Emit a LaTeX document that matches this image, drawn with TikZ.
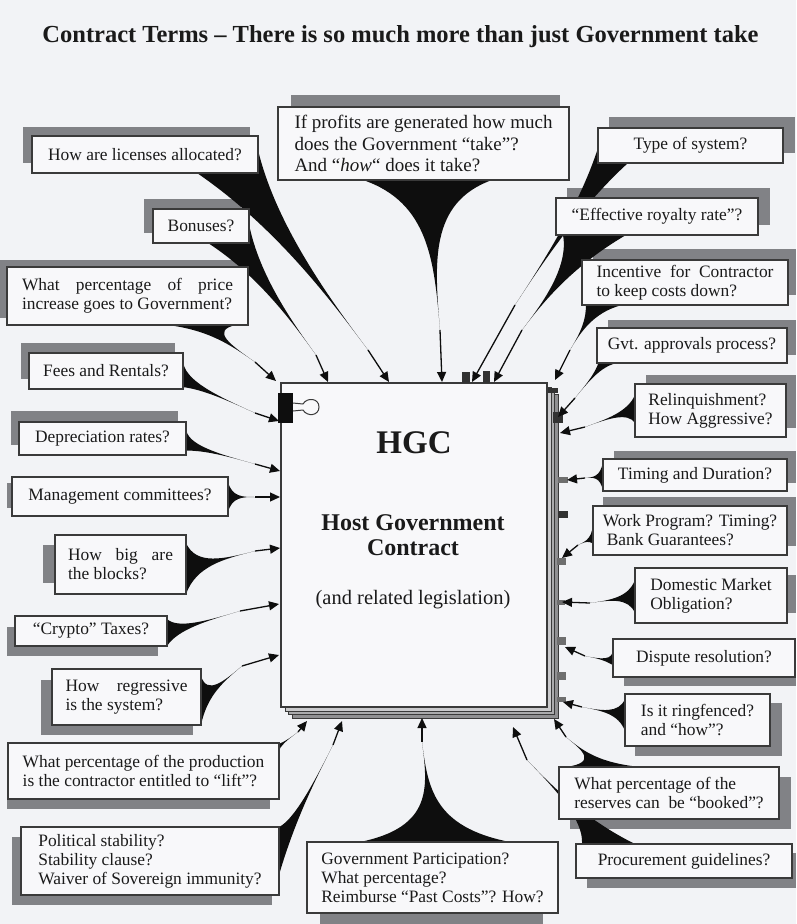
\documentclass[tikz,border=0pt]{standalone}
\usepackage{fontspec}
\setmainfont{Liberation Serif}
\usetikzlibrary{calc,arrows.meta}

\pgfdeclarelayer{bg}
\pgfdeclarelayer{stack}
\pgfdeclarelayer{shade}
\pgfdeclarelayer{tails}
\pgfsetlayers{bg,stack,shade,tails,main}

\definecolor{paper}{HTML}{F2F3F6}
\definecolor{boxfill}{HTML}{F8F8FA}
\definecolor{ink}{HTML}{1A1A1A}
\definecolor{edge}{HTML}{3A3A3A}
\definecolor{shadowc}{HTML}{818286}
\definecolor{tailc}{HTML}{0E0E0E}
\definecolor{pageA}{HTML}{CACACC}
\definecolor{pageB}{HTML}{ABABAD}
\definecolor{pageC}{HTML}{909092}

\tikzset{
  qbox/.style={draw=edge, line width=1.1pt, fill=boxfill, text=ink,
    inner sep=0pt, outer sep=0pt, align=left,
    font=\fontsize{17.4}{19}\selectfont},
  tailfill/.style={fill=tailc},
  tailline/.style={draw=tailc, line width=1.3pt,
    -{Triangle[length=10pt,width=9pt]}},
  tabmark/.style={fill=tailc!85},
  tabsoft/.style={fill=tailc!60},
  sheet/.style={draw=edge, line width=0.7pt},
}

% gray drop shadow behind a box: offsets of its two corners
\newcommand\boxshade[3]{%
  \fill[shadowc] ($(#1.north west)+(#2)$) rectangle ($(#1.south east)+(#3)$);}

% tapering callout tail: base #2--#3, neck #4, arrow to #5;
% #1 sets how far along the axis the first control point sits
\newcommand\tailto[5][0.15]{%
  \coordinate (tA) at (#2);
  \coordinate (tB) at (#3);
  \coordinate (tN) at (#4);
  \coordinate (tM) at ($(tA)!0.5!(tB)$);
  \pgfmathsetmacro\tailk{#1+0.4}%
  \fill[tailfill] (tA) .. controls ($(tM)!#1!(tN)$) and ($(tM)!\tailk!(tN)$) .. (tN)
    .. controls ($(tM)!\tailk!(tN)$) and ($(tM)!#1!(tN)$) .. (tB) -- cycle;
  \draw[tailline] (tN) -- (#5);
}

\begin{document}
\begin{tikzpicture}[x=1pt,y=-1pt]
\useasboundingbox (0,0) rectangle (796,924);
\begin{pgfonlayer}{bg}
  \fill[paper] (0,0) rectangle (796,924);
\end{pgfonlayer}

% title
\node[anchor=base, text=ink, font=\fontsize{24.5}{28}\selectfont\bfseries] (title) at (400.5,42)
  {Contract Terms – There is so much more than just Government take};

% question boxes
\node[qbox, minimum width=291pt, minimum height=73pt, font=\fontsize{19}{21.5}\selectfont] (profits) at (423.5,143.5)
  {If profits are generated how much\\does the Government “take”?\\And “\textit{how}“ does it take?};
\node[qbox, minimum width=185pt, minimum height=35pt] (typesys) at (690.5,145.5) {Type of system?};
\node[qbox, minimum width=202pt, minimum height=37pt] (effect) at (657,216.5) {“Effective royalty rate”?};
\node[qbox, minimum width=206pt, minimum height=45pt] (incent) at (685,282.5)
  {\makebox[177pt][s]{Incentive for Contractor}\\to keep costs down?};
\node[qbox, minimum width=190pt, minimum height=35pt] (gvt) at (692,345.5) {Gvt. approvals process?};
\node[qbox, minimum width=151pt, minimum height=53pt] (relinq) at (710.5,410.5) {Relinquishment?\\How Aggressive?};
\node[qbox, minimum width=184pt, minimum height=32pt] (timing) at (695,475) {Timing and Duration?};
\node[qbox, minimum width=194pt, minimum height=49pt] (work) at (690,530.5)
  {Work Program? Timing?\\\hspace*{4pt}Bank Guarantees?};
\node[qbox, minimum width=152pt, minimum height=55pt] (dmo) at (711,595.5) {Domestic Market\\Obligation?};
\node[qbox, minimum width=182pt, minimum height=38pt] (dispute) at (704,658) {Dispute resolution?};
\node[qbox, minimum width=145pt, minimum height=52pt] (ring) at (697.5,720) {Is it ringfenced?\\and “how”?};
\node[qbox, minimum width=220pt, minimum height=52pt] (reserves) at (669,793)
  {What percentage of the\\reserves can\ \ be “booked”?};
\node[qbox, minimum width=216pt, minimum height=34pt] (procure) at (684,861) {Procurement guidelines?};
\node[qbox, minimum width=251pt, minimum height=71pt] (govpart) at (432.5,877.5)
  {Government Participation?\\What percentage?\\Reimburse “Past Costs”? How?};
\node[qbox, minimum width=226pt, minimum height=37pt] (lic) at (145,154.5) {How are licenses allocated?};
\node[qbox, minimum width=96pt, minimum height=34pt] (bonus) at (201,226) {Bonuses?};
\node[qbox, minimum width=241pt, minimum height=58pt] (price) at (127.5,296)
  {\makebox[211pt][s]{What percentage of price}\\increase goes to Government?};
\node[qbox, minimum width=154pt, minimum height=36pt] (fees) at (106,371) {Fees and Rentals?};
\node[qbox, minimum width=167pt, minimum height=33pt] (deprec) at (102.5,438.5) {Depreciation rates?};
\node[qbox, minimum width=216pt, minimum height=39pt] (mgmt) at (120,496.5) {Management committees?};
\node[qbox, minimum width=131pt, minimum height=59pt] (blocks) at (120.5,564.5)
  {\makebox[105pt][s]{How big are}\\the blocks?};
\node[qbox, minimum width=152pt, minimum height=30pt] (crypto) at (91,631) {“Crypto” Taxes?};
\node[qbox, minimum width=149pt, minimum height=56pt] (regress) at (126.5,697)
  {\makebox[122pt][s]{How regressive}\\is the system?};
\node[qbox, minimum width=271pt, minimum height=56pt] (product) at (143.5,771)
  {What percentage of the production\\is the contractor entitled to “lift”?};
\node[qbox, minimum width=258pt, minimum height=68pt] (polit) at (150,861)
  {Political stability?\\Stability clause?\\Waiver of Sovereign immunity?};

% the contract document
\begin{pgfonlayer}{shade}
  \node[draw=edge, line width=1.3pt, fill=boxfill, inner sep=0pt, outer sep=0pt,
        minimum width=266pt, minimum height=324pt] (doc) at (414,545) {};
\end{pgfonlayer}
\begin{pgfonlayer}{stack}
  \filldraw[sheet, fill=pageC] ($(doc.north west)+(11,11)$) rectangle ($(doc.south east)+(11,11)$);
  \filldraw[sheet, fill=pageB] ($(doc.north west)+(7,7)$) rectangle ($(doc.south east)+(7,7)$);
  \filldraw[sheet, fill=pageA] ($(doc.north west)+(4,4)$) rectangle ($(doc.south east)+(4,4)$);
\end{pgfonlayer}
\node[text=ink, font=\fontsize{33}{36}\selectfont\bfseries] (hgc) at ($(doc.center)+(0,-102)$) {HGC};
\node[text=ink, align=center, font=\fontsize{24}{25}\selectfont\bfseries] (hgcname) at ($(doc.center)+(-1,-10)$)
  {Host Government\\Contract};
\node[text=ink, font=\fontsize{20.5}{24}\selectfont] (hgcnote) at ($(doc.center)+(-1,55)$) {(and related legislation)};

% drop shadows
\begin{pgfonlayer}{shade}
  \boxshade{profits}{13,-12}{-9,-10}
  \boxshade{typesys}{11,-11}{12,-10}
  \boxshade{effect}{11,-10}{12,-10}
  \boxshade{incent}{11,-11}{8,-10}
  \boxshade{gvt}{11,-8}{9,-8}
  \boxshade{relinq}{11,-9}{10,-9}
  \boxshade{timing}{11,-8}{9,-8}
  \boxshade{work}{10,-9}{9,-9}
  \boxshade{dmo}{10,7}{9,-10}
  \boxshade{dispute}{11,9}{1,9}
  \boxshade{ring}{10,9}{12,10}
  \boxshade{reserves}{11,10}{12,10}
  \boxshade{procure}{11,9}{4,10}
  \boxshade{govpart}{13,10}{-15,11}
  \boxshade{price}{-7,-7}{-10,-7}
  \boxshade{fees}{-8,-10}{-8,-10}
  \boxshade{deprec}{-8,-11}{-8,-10}
  \boxshade{mgmt}{-5,6}{-8,-8}
  \boxshade{blocks}{-12,10}{-6,-11}
  \boxshade{crypto}{-8,11}{-9,10}
  \boxshade{regress}{-11,11}{-8,10}
  \boxshade{product}{-1,10}{-9,10}
  \boxshade{polit}{-9,10}{-7,10}
  \boxshade{lic}{-9,-9}{-8,-10}
  \boxshade{bonus}{-9,-10}{-8,-10}
\end{pgfonlayer}

\begin{pgfonlayer}{tails}
  % binder clip
  \begin{scope}[shift={(doc.north west)}]
    \fill[tailc] (-3,10) rectangle (12,40);
    \draw[edge, line width=1pt, fill=boxfill] (12,20) -- (22,21)
      .. controls (26,14) and (38,15) .. (38,24)
      .. controls (38,33) and (26,34) .. (22,27) -- (12,28);
    \fill[tabmark] (181,-11) rectangle (189,0);
    \fill[tabmark] (202,-12) rectangle (209,0);
  \end{scope}
  % index tabs on the page edge
  \begin{scope}[shift={(doc.north east)}]
    \fill[tabmark] (1,5) rectangle (11,10);
    \fill[tabmark] (6,29) rectangle (16,40);
    \fill[tabsoft] (11,94) rectangle (21,100);
    \fill[tabmark] (11,128) rectangle (21,135);
    \fill[tabsoft] (10,175) rectangle (19,182);
    \fill[tabsoft] (10,217) rectangle (18,222);
    \fill[tabsoft] (10,254) rectangle (19,262);
    \fill[tabsoft] (10,289) rectangle (19,297);
    \fill[tabsoft] (10,314) rectangle (19,319);
  \end{scope}

  % tails, top group
  \tailto{$(profits.south west)+(85,0)$}{$(profits.south west)+(214,0)$}{440,330}{$(doc.north west)+(161,-1)$}
  \tailto[0.35]{$(lic.south west)+(165,0)$}{$(lic.north east)+(0,14)$}{368,350}{$(doc.north west)+(108,-1)$}
  \tailto[0.35]{$(bonus.south west)+(55,0)$}{$(bonus.north east)+(0,15)$}{316,355}{$(doc.north west)+(47,-1)$}
  \tailto[0.35]{$(typesys.north west)+(0,20)$}{$(typesys.south west)+(30,0)$}{515,305}{$(doc.north west)+(191,-1)$}
  \tailto[0.35]{$(effect.south west)+(7,0)$}{$(effect.south west)+(70,0)$}{522,330}{$(doc.north west)+(213,-1)$}
  % left group
  \tailto{$(price.south west)+(161,0)$}{$(price.south east)+(-12,0)$}{255,362}{$(doc.north west)+(-5,-2)$}
  \tailto{$(fees.north east)+(0,7)$}{$(fees.south east)+(-25,0)$}{255,413}{$(doc.north west)+(-2,38)$}
  \tailto{$(deprec.north east)+(0,6)$}{$(deprec.south east)+(-24,0)$}{255,464}{$(doc.north west)+(-1,88)$}
  \tailto{$(mgmt.north east)+(0,5)$}{$(mgmt.south east)+(0,-4)$}{255,497}{$(doc.north west)+(-1,114)$}
  \tailto{$(blocks.north east)+(0,8)$}{$(blocks.south east)$}{255,551}{$(doc.north west)+(-1,165)$}
  \tailto{$(crypto.north east)+(0,3)$}{$(crypto.south east)$}{240,611}{$(doc.north west)+(-2,221)$}
  \tailto{$(regress.north east)+(0,7)$}{$(regress.south east)$}{242,666}{$(doc.north west)+(-2,272)$}
  % bottom group
  \tailto{$(product.north east)+(-23,0)$}{$(product.north east)+(0,23)$}{298,732}{$(doc.south west)+(26,14)$}
  \tailto[0.3]{$(polit.north east)$}{$(polit.north east)+(0,48)$}{333,745}{$(doc.south west)+(61,14)$}
  \tailto{$(govpart.north west)+(53,0)$}{$(govpart.north west)+(203,0)$}{422,742}{$(doc.south west)+(141,11)$}
  \tailto[0.3]{$(procure.north west)+(6,0)$}{$(procure.north west)+(59,0)$}{527,760}{$(doc.south east)+(-34,20)$}
  \tailto{$(reserves.north west)+(7,0)$}{$(reserves.north west)+(81,0)$}{566,737}{$(doc.south east)+(7,12)$}
  % right group
  \tailto{$(ring.north west)+(0,5)$}{$(ring.north west)+(0,37)$}{582,707}{$(doc.north east)+(16,319)$}
  \tailto{$(dispute.north west)+(0,9)$}{$(dispute.south west)+(12,0)$}{585,656}{$(doc.north east)+(18,264)$}
  \tailto{$(dmo.north west)+(0,12)$}{$(dmo.north west)+(0,45)$}{590,603}{$(doc.north east)+(15,219)$}
  \tailto{$(work.north west)+(0,12)$}{$(work.south west)+(7,0)$}{578,545}{$(doc.north east)+(15,175)$}
  \tailto{$(timing.north west)+(0,3)$}{$(timing.south west)$}{585,478}{$(doc.north east)+(20,97)$}
  \tailto{$(relinq.north west)+(0,11)$}{$(relinq.north west)+(0,39)$}{585,427}{$(doc.north east)+(13,50)$}
  \tailto{$(gvt.north west)+(0,15)$}{$(gvt.south west)+(30,0)$}{575,398}{$(doc.north east)+(11,34)$}
  \tailto[0.3]{$(incent.north west)+(0,28)$}{$(incent.south west)+(40,0)$}{570,350}{$(doc.north east)+(8,-3)$}
\end{pgfonlayer}
\end{tikzpicture}
\end{document}
